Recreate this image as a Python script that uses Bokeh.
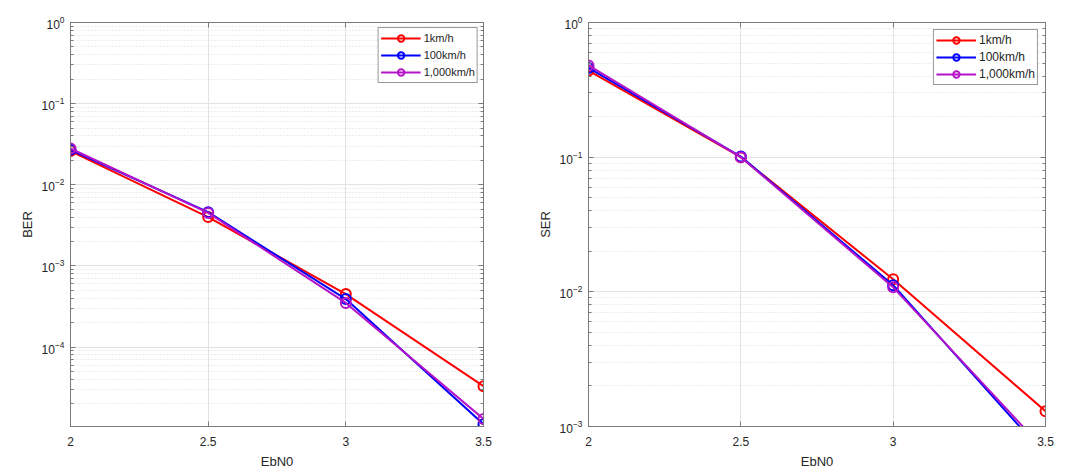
from bokeh.plotting import figure
from bokeh.layouts import row
from bokeh.models import (LogAxis, LinearAxis, Legend, LegendItem, FixedTicker,
                          CustomJSTickFormatter, Range1d, LogTickFormatter)
from bokeh.embed import file_html
from bokeh.resources import INLINE

ebn0 = [2, 2.5, 3, 3.5]
xtick_labels = {2: "2", 2.5: "2.5", 3: "3", 3.5: "3.5"}
series = ["1km/h", "100km/h", "1,000km/h"]
ber_1 = [2.6e-2, 4.0e-3, 4.5e-4, 3.3e-5]
ber_100 = [2.7e-2, 4.6e-3, 3.9e-4, 1.12e-5]
ber_1000 = [2.8e-2, 4.5e-3, 3.5e-4, 1.3e-5]
ser_1 = [0.44, 0.100, 0.0124, 1.3e-3]
ser_100 = [0.46, 0.101, 0.0112, 6.1e-4]
ser_1000 = [0.48, 0.100, 0.0108, 6.6e-4]
colors = ["#ff0000", "#0000ff", "#b414c8"]

FONT = "Liberation Sans"
TXT = "#262626"
AX = "#7a7a7a"


def decades(lo, hi):
    return [10.0 ** e for e in range(lo, hi + 1)]


def minors(lo, hi):
    return [k * 10.0 ** e for e in range(lo, hi) for k in range(2, 10)]


def make(ylabel, ys, yr, dec, w, bl, br, lfont, lmargin):
    p = figure(width=w, height=475, y_axis_type="log",
               x_range=Range1d(2, 3.5), y_range=Range1d(*yr),
               output_backend="svg", toolbar_location=None,
               min_border_left=bl, min_border_right=br,
               min_border_top=22, min_border_bottom=49,
               background_fill_color="white", border_fill_color="white")
    yt = FixedTicker(ticks=decades(*dec), minor_ticks=minors(*dec))
    xt = FixedTicker(ticks=ebn0, minor_ticks=[])
    p.yaxis.ticker = yt
    p.xaxis.ticker = xt
    p.yaxis.formatter = LogTickFormatter()
    p.xaxis.major_label_overrides = xtick_labels
    for ax in (p.xaxis[0], p.yaxis[0]):
        ax.axis_line_color = AX
        ax.major_tick_line_color = AX
        ax.minor_tick_line_color = AX
        ax.major_tick_in = 5
        ax.major_tick_out = 0
        ax.minor_tick_in = 3
        ax.minor_tick_out = 0
        ax.major_label_text_font = FONT
        ax.major_label_text_font_size = "12px"
        ax.major_label_text_color = TXT
        ax.axis_label_text_font = FONT
        ax.axis_label_text_font_size = "13px"
        ax.axis_label_text_font_style = "normal"
        ax.axis_label_text_color = TXT
    p.xaxis.axis_label = "EbN0"
    p.yaxis.axis_label = ylabel
    p.xaxis.major_label_standoff = 10
    p.xaxis.axis_label_standoff = 5
    p.yaxis.major_label_standoff = 6
    p.yaxis.axis_label_standoff = 4

    blank = CustomJSTickFormatter(code="return ''")
    ra = LogAxis(ticker=yt, formatter=blank)
    ta = LinearAxis(ticker=xt, formatter=blank)
    for ax in (ra, ta):
        ax.axis_line_color = AX
        ax.major_tick_line_color = AX
        ax.minor_tick_line_color = AX
        ax.major_tick_in = 5
        ax.major_tick_out = 0
        ax.minor_tick_in = 3
        ax.minor_tick_out = 0
        ax.major_label_standoff = 0
        ax.major_label_text_font_size = "1px"
    p.add_layout(ra, "right")
    p.add_layout(ta, "above")
    p.outline_line_color = AX

    p.xgrid.grid_line_color = "#e3e3e3"
    p.ygrid.grid_line_color = "#e3e3e3"
    p.ygrid.minor_grid_line_color = "#dcdcdc"
    p.ygrid.minor_grid_line_dash = "1 2"

    items = []
    for name, y, c in zip(series, ys, colors):
        ln = p.line(ebn0, y, line_color=c, line_width=2)
        sc = p.scatter(ebn0, y, marker="circle", size=10, fill_color=None,
                       line_color=c, line_width=2)
        items.append(LegendItem(label=name, renderers=[ln, sc]))
    leg = Legend(items=items, location="top_right")
    leg.label_text_font = FONT
    leg.label_text_font_size = lfont
    leg.label_text_color = TXT
    leg.border_line_color = "#333333"
    leg.border_line_width = 1
    leg.background_fill_alpha = 1
    leg.glyph_width = 40
    leg.glyph_height = 16
    leg.label_standoff = 3
    leg.label_height = 16
    leg.spacing = 1
    leg.padding = 2
    leg.margin = lmargin
    p.add_layout(leg)
    return p


p1 = make("BER", [ber_1, ber_100, ber_1000], (1.05e-5, 1.0), (-5, 0),
          530, 70, 47, "11px", 5)
p2 = make("SER", [ser_1, ser_100, ser_1000], (1e-3, 1.0), (-3, 0),
          554, 58, 39, "12px", 7)

layout = row(p1, p2)
open("out.html", "w").write(file_html(layout, INLINE))
